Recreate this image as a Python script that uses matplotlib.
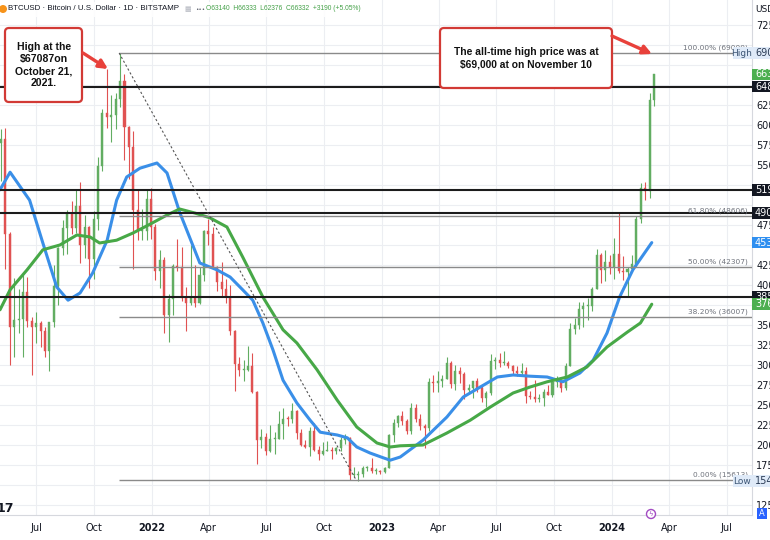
import matplotlib
matplotlib.use("Agg")
import matplotlib.pyplot as plt
import matplotlib.dates as mdates
import matplotlib.transforms as mtransforms
from matplotlib.patches import Rectangle, FancyBboxPatch, FancyArrowPatch, Circle
import numpy as np
import pandas as pd

# ---------------- data (weekly candles) ----------------
first_week = "2021-05-03"
first_open = 57800
highs = [
    59500, 59600, 46600, 40900, 39500,                 # May 2021
    41300, 41000, 36000, 36600,                        # Jun
    35500, 34700, 35000, 42500,                        # Jul
    44800, 48100, 49400, 50500, 52000,                 # Aug
    52900, 48800, 47400, 49300,                        # Sep
    56000, 62000, 67000, 63700,                        # Oct
    64000, 69000, 66400, 59900, 59200,                 # Nov
    51900, 49500, 51900, 52100,                        # Dec
    47600, 44400, 43500, 38900, 42600,                 # Jan 2022
    45800, 44700, 39800, 45000,                        # Feb
    42500, 42300, 46900, 48200,                        # Mar
    47200, 42400, 42900, 40800,                        # Apr
    40000, 34400, 31000, 30600, 32400,                 # May
    31500, 26800, 22000, 21500,                        # Jun
    22500, 21600, 24200, 24600,                        # Jul
    23600, 25200, 24400, 22000, 20600,                 # Aug
    22200, 22700, 19900, 20400,                        # Sep
    20500, 19700, 19700, 21000, 21400,                 # Oct
    21000, 17200, 16800, 17400,                        # Nov
    17400, 18400, 17100, 16900,                        # Dec
    17200, 21400, 23300, 23800, 24200,                 # Jan 2023
    23200, 25200, 25100, 23900,                        # Feb
    22600, 28400, 28800, 29200,                        # Mar
    28700, 31000, 30500, 30000,                        # Apr
    29800, 29100, 27600, 27500, 28400,                 # May
    27400, 26800, 31400, 31000,                        # Jun
    31500, 31800, 30500, 30000, 29900,                 # Jul
    30200, 29700, 26800, 28100,                        # Aug
    26400, 27000, 27500, 28100,                        # Sep
    28600, 27900, 30300, 35200, 35900,                 # Oct
    37900, 37900, 38400, 39700,                        # Nov
    44500, 44000, 44400, 43800,                        # Dec
    45900, 49000, 43600, 42200, 43800,                 # Jan 2024
    48600, 52800, 52900, 64000,                        # Feb
    66333,                                             # Mar
]
lows = [
    53000, 42000, 30000, 31000, 34000,
    31000, 34800, 28800, 32700,
    32200, 31000, 29300, 34800,
    37500, 43800, 43900, 46400, 46500,
    42800, 43400, 39600, 40700,
    46900, 54200, 59600, 57900,
    59500, 62300, 55600, 53300, 42000,
    45600, 45600, 45600, 45700,
    40600, 39600, 34000, 32900, 36300,
    41700, 38000, 34300, 37500,
    37200, 37600, 40500, 45000,
    42100, 39200, 38600, 37700,
    33700, 26700, 28600, 28000, 29300,
    26500, 17600, 19600, 18700,
    19100, 18900, 20700, 20700,
    22400, 22700, 20800, 19900, 19600,
    18600, 19300, 18100, 18800,
    19200, 18200, 18900, 19200, 20100,
    15600, 16000, 15500, 16000,
    16700, 16500, 16400, 16400,
    16500, 17100, 20400, 22300, 22500,
    21400, 21400, 22900, 21900,
    19600, 21800, 26600, 26600,
    27200, 28200, 27100, 26900,
    27700, 25800, 26400, 25900, 26600,
    25400, 24800, 26200, 29500,
    29800, 30000, 29600, 28900, 28600,
    28700, 25300, 25800, 25400,
    25400, 24900, 26300, 26000,
    27200, 26600, 26900, 29900, 33900,
    34500, 34800, 35600, 36800,
    39500, 40200, 40500, 41400,
    40800, 41500, 40600, 38500, 41800,
    42300, 47700, 50600, 50900,
    62376,
]
closes = [
    58200, 46400, 34700, 35600, 35800,
    39100, 35500, 34700, 35300,
    34300, 31800, 35400, 39900,
    44600, 47100, 48900, 47100, 49900,
    45000, 47300, 43200, 48200,
    54900, 61500, 61000, 61300,
    63300, 65500, 59700, 57200, 49400,
    46700, 46700, 50800, 47300,
    41800, 43100, 36300, 38200, 42400,
    42200, 38400, 37700, 38400,
    37800, 41300, 46800, 46400,
    42200, 40400, 39500, 38500,
    34300, 30100, 29400, 29400, 29900,
    26600, 20600, 21000, 19300,
    20800, 20800, 22600, 23300,
    23200, 24300, 21500, 20000, 19800,
    21800, 19400, 18900, 19300,
    19400, 19200, 19600, 20600, 20900,
    16300, 16300, 16400, 17100,
    17100, 16800, 16800, 16600,
    17100, 21200, 22700, 23600, 23000,
    21800, 24600, 23200, 22400,
    22100, 27900, 27800, 28000,
    28300, 30300, 27600, 29200,
    28900, 26900, 27100, 28000, 27100,
    25900, 26500, 30500, 30600,
    30300, 30300, 29900, 29300, 29000,
    29300, 26100, 26000, 25800,
    25900, 26600, 26300, 27900,
    27900, 27100, 29900, 34500, 35000,
    37000, 37400, 37400, 39500,
    43800, 41900, 42900, 42300,
    43900, 41800, 41600, 42000, 42600,
    48300, 52100, 51700, 63140,
    66332,
]

ma_blue_dates = ["2021-05-05", "2021-05-21", "2021-06-21", "2021-07-12", "2021-08-03", "2021-08-21",
                 "2021-09-09", "2021-09-29", "2021-10-22", "2021-11-06", "2021-11-22", "2021-12-13",
                 "2022-01-09", "2022-01-25", "2022-02-14", "2022-03-18", "2022-04-14", "2022-05-05",
                 "2022-05-25", "2022-06-10", "2022-06-26", "2022-07-12", "2022-07-28", "2022-08-19",
                 "2022-09-09", "2022-09-25", "2022-10-22", "2022-11-07", "2022-11-22", "2022-12-13",
                 "2023-01-03", "2023-01-14", "2023-01-30", "2023-03-07", "2023-04-14", "2023-05-10",
                 "2023-06-06", "2023-07-03", "2023-07-28", "2023-08-24", "2023-09-20", "2023-10-15",
                 "2023-11-11", "2023-12-02", "2023-12-24", "2024-01-13", "2024-02-03", "2024-03-04"]
ma_blue = [51900, 54100, 50600, 45250, 39750, 38100,
           39000, 41500, 45600, 50600, 53500, 54600,
           55250, 54000, 49100, 42750, 41900, 41000,
           39400, 38100, 35250, 31900, 28100, 25250,
           23100, 21600, 21250, 20900, 19750, 19000,
           18400, 18100, 18500, 20600, 23500, 26000,
           27250, 28500, 28750, 28600, 28500, 27900,
           29000, 30600, 34000, 38500, 41900, 45300]

ma_green_dates = ["2021-05-05", "2021-05-21", "2021-06-17", "2021-07-12", "2021-08-08", "2021-09-04",
                  "2021-09-25", "2021-10-10", "2021-11-06", "2021-12-02", "2021-12-29", "2022-01-25",
                  "2022-02-14", "2022-03-10", "2022-04-03", "2022-04-30", "2022-05-25", "2022-06-26",
                  "2022-07-28", "2022-08-19", "2022-09-20", "2022-10-22", "2022-11-22", "2022-12-24",
                  "2023-01-14", "2023-01-30", "2023-03-07", "2023-04-14", "2023-05-21", "2023-06-22",
                  "2023-07-28", "2023-08-24", "2023-09-20", "2023-10-22", "2023-11-22", "2023-12-24",
                  "2024-01-25", "2024-02-15", "2024-03-04"]
ma_green = [36900, 39400, 41900, 44400, 45000, 46250,
            46000, 45250, 45600, 46500, 47600, 48750,
            49500, 49000, 48400, 47250, 43500, 38500,
            34400, 32750, 29400, 25600, 22250, 20250,
            19750, 19900, 20000, 21500, 23100, 24750,
            26500, 27250, 27900, 28500, 29750, 32250,
            34100, 35250, 37600]

key_levels = [64800, 51900, 49000, 38500]
fib_levels = [69000, 48606, 42307, 36007, 15613]
fib_labels = ["100.00% (69000)", "61.80% (48606)", "50.00% (42307)", "38.20% (36007)", "0.00% (15613)"]
fib_start = "2021-11-10"
trend_dates = ["2021-11-10", "2022-11-21"]
trend_prices = [69000, 15613]

price_ticks = list(range(12500, 72501, 2500))
x_tick_dates = ["2021-07-01", "2021-10-01", "2022-01-01", "2022-04-01", "2022-07-01", "2022-10-01",
                "2023-01-01", "2023-04-01", "2023-07-01", "2023-10-01", "2024-01-01", "2024-04-01",
                "2024-07-01"]
x_tick_labels = ["Jul", "Oct", "2022", "Apr", "Jul", "Oct", "2023", "Apr", "Jul", "Oct", "2024", "Apr", "Jul"]

# axis tags: (price, text, face, text colour)
tags = [(69000, "69000", "#dfeaf8", "#2a3b55"),
        (66332, "66332", "#4caf50", "white"),
        (64800, "64800", "#131722", "white"),
        (51900, "51900", "#131722", "white"),
        (49000, "49000", "#131722", "white"),
        (45300, "45300", "#2f8ff0", "white"),
        (38500, "38500", "#131722", "white"),
        (37600, "37600", "#4caf50", "white"),
        (15476, "15476", "#dfeaf8", "#2a3b55")]

header = "BTCUSD · Bitcoin / U.S. Dollar · 1D · BITSTAMP"
ohlc_text = "O63140  H66333  L62376  C66332  +3190 (+5.05%)"
note1 = "High at the\n$67087on\nOctober 21,\n2021."
note2 = "The all-time high price was at\n$69,000 at on November 10"

# ---------------- figure ----------------
W, H = 770, 540
fig = plt.figure(figsize=(W / 100, H / 100), dpi=100)
fig.patch.set_facecolor("white")
ax = fig.add_axes([0, 25 / H, 752 / W, 515 / H])
ax.set_facecolor("white")

d2n = lambda s: mdates.date2num(pd.Timestamp(s))
x_left = d2n("2021-05-05")
x_right = d2n("2024-08-10")
ax.set_xlim(x_left, x_right)
ax.set_ylim(11250, 75625)

# ticks and grid (labels hidden where an axis tag covers them, as in the reference)
ax.set_xticks([d2n(d) for d in x_tick_dates])
ax.set_xticklabels(x_tick_labels)
ax.set_yticks(price_ticks)
tag_prices = [t[0] for t in tags]
ax.set_yticklabels(["" if any(abs(p - tp) < 1500 for tp in tag_prices) else str(p)
                    for p in price_ticks])
ax.yaxis.tick_right()
ax.tick_params(axis="y", length=0, pad=3, labelsize=7, labelcolor="#131722")
ax.tick_params(axis="x", length=0, pad=6, labelsize=7, labelcolor="#131722")
for lab in ax.get_xticklabels():
    if lab.get_text().startswith("20"):
        lab.set_fontweight("bold")
ax.grid(True, color="#eceef2", lw=0.8)
ax.set_axisbelow(True)
for s in ["top", "left"]:
    ax.spines[s].set_visible(False)
ax.spines["right"].set_color("#d6d8de")
ax.spines["bottom"].set_color("#d6d8de")
ax.spines["right"].set_linewidth(0.8)
ax.spines["bottom"].set_linewidth(0.8)

# candles
week_dates = pd.date_range(first_week, periods=len(closes), freq="7D")
opens = [first_open] + closes[:-1]
up_c, dn_c = "#62ad62", "#e05252"
for wd, o, h, l, c in zip(week_dates, opens, highs, lows, closes):
    xc = mdates.date2num(wd) + 3.5
    col = up_c if c >= o else dn_c
    ax.vlines(xc, l, h, color=col, lw=0.8, zorder=3)
    ax.add_patch(Rectangle((xc - 1.6, min(o, c)), 3.2, max(abs(c - o), 120),
                           fc=col, ec=col, lw=0.3, zorder=3))

# moving averages
ax.plot([d2n(d) for d in ma_blue_dates], ma_blue, color="#3a8fe8", lw=2.2, zorder=4,
        solid_capstyle="round", solid_joinstyle="round")
ax.plot([d2n(d) for d in ma_green_dates], ma_green, color="#47a847", lw=2.2, zorder=4,
        solid_capstyle="round", solid_joinstyle="round")

# key horizontal levels
for lv in key_levels:
    ax.axhline(lv, color="#1c1c1c", lw=1.5, zorder=5)

# fib levels
fs = d2n(fib_start)
tb = mtransforms.blended_transform_factory(fig.transFigure, ax.transData)
for lv, lab in zip(fib_levels, fib_labels):
    ax.hlines(lv, fs, x_right, color="#8a8a8a", lw=1.0, zorder=5)
    fig.text(748 / W, lv + 250, lab, transform=tb, ha="right", va="bottom",
             fontsize=5.3, color="#6f737c", zorder=6)

# dashed trend line
ax.plot([d2n(d) for d in trend_dates], trend_prices, color="#555555", lw=0.8,
        ls=(0, (2, 2)), zorder=5)

# axis tags
for price, txt, fc, tc in tags:
    fig.add_artist(Rectangle((752 / W, price - 720), 18 / W, 1440, transform=tb,
                             fc=fc, ec="none", zorder=8))
    fig.text(755 / W, price, txt, transform=tb, ha="left", va="center",
             fontsize=7, color=tc, zorder=9)
# High / Low side tags
for price, txt in [(69000, "High"), (15476, "Low")]:
    fig.add_artist(Rectangle((733 / W, price - 720), 19 / W, 1440, transform=tb,
                             fc="#dfeaf8", ec="none", zorder=8))
    fig.text(742 / W, price, txt, transform=tb, ha="center", va="center",
             fontsize=6.5, color="#3d5675", zorder=9)

fig.text(755 / W, 1 - 9 / H, "USD", fontsize=6.5, color="#131722", va="center")

# pixel helper transform (inches at 100 dpi)
pt = fig.dpi_scale_trans
P = lambda x, y: (x / 100, (H - y) / 100)

# header
fig.add_artist(Rectangle(P(0, 17), 3.58, 0.15, transform=pt, fc="white", ec="none", alpha=0.85, zorder=9))
fig.add_artist(Circle(P(3, 9), 0.04, transform=pt, fc="#f7931a", ec="none", zorder=10))
fig.text(*P(8, 9), header, transform=pt, fontsize=5.7, family="Liberation Sans",
         color="#131722", va="center", zorder=10)
fig.text(*P(184, 9), "▦", transform=pt, fontsize=5, color="#b2b5be", va="center", zorder=10)
fig.text(*P(195, 9), "•••", transform=pt, fontsize=4.0, color="#555a66", va="center", zorder=10)
fig.text(*P(206, 9), ohlc_text, transform=pt, fontsize=4.8, family="Liberation Sans",
         color="#43a047", va="center", zorder=10)

# annotation boxes
box1 = FancyBboxPatch(P(5, 102), 0.77, 0.74, boxstyle="round,pad=0,rounding_size=0.04",
                      transform=pt, fc="white", ec="#d23a35", lw=1.6, zorder=11)
fig.add_artist(box1)
fig.text(*P(44, 65), note1, transform=pt, ha="center", va="center", fontsize=7.6,
         fontweight="bold", family="Liberation Sans", linespacing=1.25, color="#111111", zorder=12)

box2 = FancyBboxPatch(P(440, 88), 1.72, 0.60, boxstyle="round,pad=0,rounding_size=0.04",
                      transform=pt, fc="white", ec="#d23a35", lw=1.6, zorder=11)
fig.add_artist(box2)
fig.text(*P(526, 58), note2, transform=pt, ha="center", va="center", fontsize=7.4,
         fontweight="bold", family="Liberation Sans", linespacing=1.35, color="#111111", zorder=12)

# arrows
for a, b in [((83, 53), (108, 69)), ((612, 36), (652, 54))]:
    arr = FancyArrowPatch(P(*a), P(*b), transform=pt, arrowstyle="-|>", mutation_scale=13,
                          lw=2.4, color="#e8413b", zorder=12, shrinkA=0, shrinkB=0)
    fig.add_artist(arr)

# bottom decorations
fig.text(*P(-3, 509), "17", transform=pt, fontsize=9, fontweight="bold", color="#131722",
         va="center", zorder=10)
fig.add_artist(Circle(P(651, 514), 0.045, transform=pt, fc="white", ec="#a24bc2", lw=1.0, zorder=10))
fig.text(*P(651, 514), "ϟ", transform=pt, fontsize=5, color="#a24bc2", ha="center", va="center", zorder=11)
fig.add_artist(Rectangle(P(757, 519), 0.10, 0.11, transform=pt, fc="#2962ff", ec="none", zorder=10))
fig.text(*P(762, 513), "A", transform=pt, fontsize=6, color="white", ha="center", va="center", zorder=11)

fig.savefig("out.png", dpi=100)
